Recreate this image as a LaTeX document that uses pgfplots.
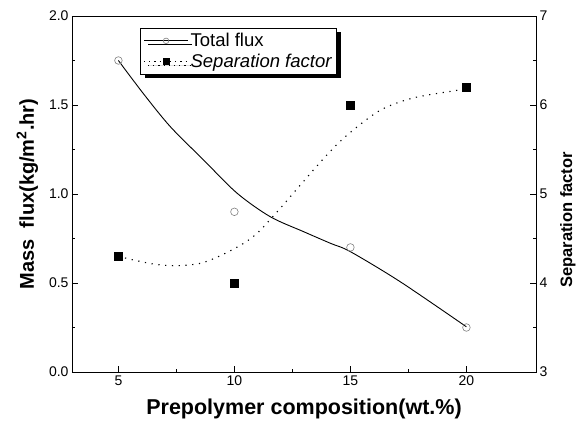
\documentclass[border=0pt]{standalone}
\usepackage{fontspec}
\setmainfont{Liberation Sans}
\usepackage{pgfplots}
\pgfplotsset{compat=1.18}
\usetikzlibrary{shadows}

\pgfplotstableread{
x y
5 1.75
10 0.90
15 0.70
20 0.25
}\fluxpts
\pgfplotstableread{
x y
5 1.75
6.1 1.56
7.24 1.378
8.68 1.19
10.12 1.004
11.55 0.872
12.99 0.788
14.14 0.723
15 0.676
17.15 0.507
20 0.254
}\fluxfit
\pgfplotstableread{
x y
5 4.30
10 4.00
15 6.00
20 6.20
}\seppts
\pgfplotstableread{
x y
5 4.30
5.66 4.258
6.59 4.21
7.53 4.194
8.53 4.221
9.40 4.307
10.40 4.446
11.05 4.576
11.98 4.84
12.84 5.10
13.92 5.42
14.85 5.66
16.28 5.94
17.72 6.08
19.7 6.17
20 6.20
}\sepfit

\pgfplotsset{
  common/.style={
    scale only axis, width=464pt, height=356pt,
    xmin=3, xmax=23,
    axis line style={line width=0.9pt},
    tick align=inside,
    major tick length=6pt, minor tick length=3.5pt,
    every tick/.style={line width=0.8pt, black},
    /pgf/number format/assume math mode=true,
    tick label style={font=\fontsize{14}{16}\selectfont},
  },
}

\begin{document}
\begin{tikzpicture}
\begin{axis}[common,
  ymin=0, ymax=2,
  xtick={5,10,15,20}, minor x tick num=1,
  ytick={0,0.5,1,1.5,2}, minor y tick num=1,
  xtick pos=bottom, ytick pos=left,
  yticklabel style={/pgf/number format/.cd, fixed, fixed zerofill, precision=1},
  xlabel={\bfseries Prepolymer composition(wt.\%)},
  ylabel={\bfseries Mass\ \ flux(kg/m\textsuperscript{2}.hr)},
  xlabel style={font=\fontsize{21.5}{24}\selectfont, yshift=-7pt},
  ylabel style={font=\fontsize{20}{22}\selectfont},
  ylabel shift=4pt,
]
\addplot[black, line width=0.9pt, smooth, no marks] table {\fluxfit};
\addplot[only marks, mark=o, mark size=3.8pt, gray, mark options={line width=0.6pt, fill=white}] table {\fluxpts};
\end{axis}

\begin{axis}[common,
  ymin=3, ymax=7,
  xtick=\empty,
  ytick={3,4,5,6,7}, minor y tick num=1,
  ytick pos=right, yticklabel pos=right,
  ylabel={\bfseries Separation factor},
  ylabel style={font=\fontsize{16.5}{19}\selectfont, at={(ticklabel cs:0.427)}},
  ylabel shift=6pt,
  legend style={at={(0.147,0.966)}, anchor=north west, draw=black, line width=0.6pt,
    fill=white, drop shadow={shadow xshift=4pt, shadow yshift=-4pt, fill=black, opacity=1},
    font=\fontsize{18.5}{21}\selectfont, inner xsep=3pt, inner ysep=3pt, row sep=2pt},
  legend cell align=left,
  legend image code/.code={\draw[#1, mark indices={2}] plot coordinates {(0pt,0pt) (22pt,0pt) (44pt,0pt)};},
]
\addlegendimage{black, line width=0.9pt, mark=o, mark size=2.8pt, mark options={gray, fill=white, solid, line width=0.6pt}}
\addlegendentry{Total flux}
\addlegendimage{black, line width=1.1pt, dash pattern=on 1.2pt off 4pt, mark=square*, mark size=3pt, mark options={solid}}
\addlegendentry{\itshape Separation factor}
\addplot[black, line width=1.1pt, dash pattern=on 1.2pt off 5.6pt, smooth, no marks, forget plot] table {\sepfit};
\addplot[only marks, mark=square*, mark size=3.8pt, black, forget plot] table {\seppts};
\end{axis}
\pgfresetboundingbox
\path ([shift={(-72pt,-62pt)}]current axis.south west) rectangle ([shift={(48pt,16pt)}]current axis.north east);
\end{tikzpicture}
\end{document}
